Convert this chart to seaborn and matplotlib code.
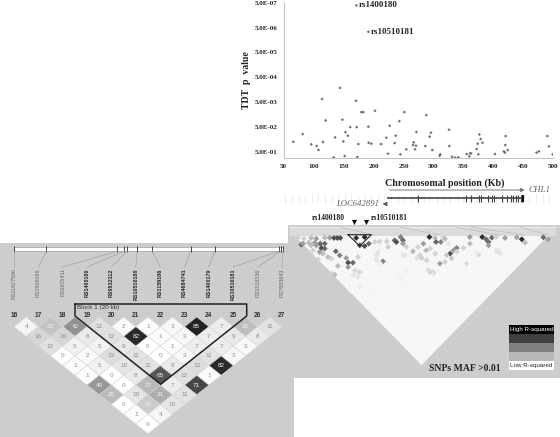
import numpy as np
import pandas as pd
import matplotlib
matplotlib.use("Agg")
import matplotlib.pyplot as plt
from matplotlib.patches import Polygon
import seaborn as sns

W, H = 560, 437
PANEL = "#cdcdcd"
SERIF = "Liberation Serif"
SANS = "Liberation Sans"

# TDT scan: position in Kb, -log10(p)
tdt_kb = [171.3, 191.3, 66, 81.7, 96, 105, 108, 114, 115.6, 120, 133.4, 135.7, 144, 148, 149.6, 151.8, 153, 157, 161,
          170.7, 171.8, 172.9, 174.6, 179.6, 183, 191.3, 191.8, 196.3, 202.4, 212.4, 221.3, 224, 226.9, 235.2, 236.9,
          243, 244.7, 251.3, 254.7, 265.8, 266.9, 269.1, 270.8, 271.4, 286.4, 288, 293.6, 295.8, 298, 310.3, 311.4,
          325.9, 326.4, 330.9, 335.9, 341.4, 355.4, 359.8, 360.9, 362.6, 372, 373.7, 374.8, 376.5, 378.7, 382, 402.6,
          417.6, 419.3, 419.9, 420.4, 423.8, 472, 476, 490, 492.7, 498.9]
tdt_logp = [6.19, 5.13, .70, 1.01, .595, .53, .37, 2.42, .69, 1.56, .07, .877, 2.87, 1.59, .716, .127, 1.09, .944, 1.29,
            2.35, 1.29, .087, .609, 1.894, 1.894, 1.305, .662, .622, 1.948, .609, .863, .22, 1.345, .649, .944,
            1.533, .194, 1.894, .395, .569, .676, .395, .542, 1.091, .529, 1.774, .903, 1.064, .368, .14, .194,
            1.185, .529, .1, .06, .073, .207, .114, .234, .234, .408, .622, .194, .997, .81, .662, .207,
            .314, .261, .569, .93, .368, .261, .314, .93, .515, .194]
p_exponents = [1, 2, 3, 4, 5, 6, 7]
x_ticks = [50, 100, 150, 200, 250, 300, 350, 400, 450, 500]

exon_kb = [274, 354, 362, 376, 379, 391.5, 397, 401, 415, 422, 429, 432, 438, 441.6, 445.5, 448]

# Haploview block, one list per row of the triangle
snp_names = ["RS11927596", "RS1568086", "RS6805411", "RS1400180", "RS9832112", "RS10510180",
             "RS1159106", "RS4684741", "RS1400179", "RS10510181", "RS1516336", "RS7653643"]
snp_bold = [False, False, False, True, True, True, True, True, True, True, False, False]
snp_numbers = list(range(16, 28))
snp_pos = [0, 1.33, 4.24, 4.53, 4.65, 5.05, 5.68, 7.25, 8.24, 10.89, 10.96, 11.04]
ld_rows = [
    [4, 23, 42, 12, 2, 1, 3, 85, 7, 25, 11],
    [16, 16, 8, 12, 82, 1, 3, 7, 9, 8],
    [12, 5, 5, 9, 0, 1, 7, 7, 3],
    [0, 2, 13, 11, 0, 3, 11, 3],
    [1, 5, 10, 11, 8, 13, 82],
    [1, 0, 8, 65, 12, 1],
    [40, 0, 27, 7, 71],
    [26, 10, 31, 11],
    [0, 20, 10],
    [1, 4],
    [0],
]

# Large LD triangle, non-white cells only
big_pos = [2.0, 4.0, 6.4, 8.1, 10.9, 12.6, 14, 15.1, 16.1, 3.1, 3.7, 5.6, 7.6, 9.4, 10.9, 6.4, 9.8, 10.9, 8.1, 7, 9.2,
           10.3, 14.6, 15.9, 12, 13.1, 8.7, 18.1, 18.7, 20.3, 18.7, 15.3, 14.2, 13.1, 21.4, 24.2, 22.6, 24.2, 25.6, 22,
           27.6, 29.2, 31.6, 34.2, 34.8, 36.2, 37, 37, 32, 30.3, 28.1, 28.7, 20.9, 22.6, 22, 22.6, 38.1, 40.3, 42, 37.6,
           37.6, 26.4, 42.6, 45.8, 47.7, 48, 49.6, 50.4, 51, 43.8, 46, 44.7, 47.7, 52.7, 53.8, 54.9, 57.1, 52.1, 59.3,
           59.3, 63.4, 64.7, 65.5, 66.6, 65.5, 68, 71, 74.9, 76.6, 77.7, 83.8, 85.4, 62.1, 68.8, 58.2, 49.3, 51, 47.1,
           46, 44.9, 43.2, 69.3, 38.2, 32.7, 68.2, 26, 19.3,
           51.6, 53.2, 54.9, 47.1, 45.4, 68.2, 69.3, 61.6, 38.2, 36, 28.2, 29.3, 27.1, 32.7, 47.1, 54.9, 19.3, 20.4,
           22.1, 37.1, 41.6, 57.1, 64.9]
big_sep = [3.1, 3.8, 3.3, 3.8, 3.1, 3.1, 3.3, 3.3, 3.3, 7.8, 7.1, 6.4, 6.4, 7.1, 7.1, 8.2, 10, 10.4, 8.2, 11.6, 12.7,
           13.8, 12.2, 14.9, 16, 17.1, 17.6, 16.7, 19.8, 19.8, 22.7, 22, 27.8, 27.1, 3.3, 2.7, 8.2, 8.7, 7.1, 16,
           6, 5.6, 5.6, 4.9, 6, 2.7, 4.9, 7.1, 9.3, 18.9, 14.9, 12.7, 24.9, 26, 29.3, 36, 9.3, 12.2, 9.3, 14.9,
           33.8, 27.1, 14.9, 2.7, 3.3, 6, 6, 3.1, 3.8, 7.1, 10.4, 11.6, 13.8, 13.8, 11.6, 10, 10, 7.1, 2.7,
           7.1, 2.7, 4.2, 6, 3.1, 8.2, 2.7, 3.3, 2.9, 4.2, 6.4, 2.9, 4.2, 14.4, 12.2, 20.4, 20.4, 19.3, 26.4,
           26, 18.2, 16.7, 20.4, 54.7, 54.7, 11.3, 39, 34.7,
           14.7, 16.9, 12.4, 26.9, 24.7, 12.4, 13.5, 13.5, 24.7, 30.2, 18, 20.2, 41.3, 48, 45.8, 30.2, 38, 28,
           25.8, 14.7, 16.9, 23.6, 21.3]
big_r2 = [.3, .3, .4, .5, .4, .5, .8, .8, .8, .7, .5, .4, .5, .7, .7, .4, .8, .7, .5, .3, .5,
          .4, .7, .6, .4, .3, .3, .5, .8, .7, .5, .4, .4, .3, .9, .9, .8, .8, .7, .3,
          .3, .3, .3, .7, .8, .6, .7, .5, .3, .6, .2, .2, .25, .25, .2, .15, .3, .4, .3, .2,
          .1, .1, .3, .9, .4, .7, .6, .3, .4, .5, .3, .4, .3, .8, .5, .6, .3, .2, .5,
          .4, .9, .7, .7, .7, .5, .3, .5, .5, .9, .4, .7, .5, .3, .2, .25, .5, .3, .4,
          .3, .3, .3, .1, .1, .08, .2, .1, .1,
          .35, .35, .3, .2, .25, .2, .2, .15, .15, .12, .2, .15, .08, .07, .05, .07, .1, .2,
          .25, .2, .2, .1, .08]
legend_levels = [1.0, 0.75, 0.5, 0.28, 0.0]


def px_axes(left, top, right, bottom):
    a = fig.add_axes([left / W, 1 - bottom / H, (right - left) / W, (bottom - top) / H])
    a.patch.set_alpha(0)
    return a


def hide(a):
    a.set_xticks([])
    a.set_yticks([])
    a.set_xlabel("")
    a.set_ylabel("")
    for s in a.spines.values():
        s.set_visible(False)


def overlay():
    a = px_axes(0, 0, W, H)
    a.set_xlim(0, W)
    a.set_ylim(H, 0)
    hide(a)
    return a


sns.set_theme(style="white")
fig = plt.figure(figsize=(W / 100, H / 100), dpi=100, facecolor="white")

# backgrounds and free text, in pixels
bg = overlay()
bg.fill_between([0, 294], 243, 436.5, color=PANEL, lw=0)
bg.fill_between([288, 560], 225, 378, color=PANEL, lw=0)
bg.fill_between([290, 556], 227, 236, color="#dbdbdb", lw=0)

# TDT scatter
top = px_axes(283.7, 2.7, 553.3, 158)
sns.scatterplot(x=tdt_kb, y=tdt_logp, ax=top, marker="D", s=2.6, color="#707070", edgecolor="none", legend=False)
top.set_xlim(50, 500)
top.set_ylim(0.047, 6.301)
top.set_xticks(x_ticks)
top.set_xticklabels(x_ticks, family=SERIF, fontweight="bold", fontsize=5, color="#222222")
top.set_yticks([e - np.log10(5) for e in p_exponents])
top.set_yticklabels(["5.0E-%02d" % e for e in p_exponents], family=SERIF, fontweight="bold", fontsize=5, color="#222222")
top.tick_params(axis="both", length=1.5, width=0.5, color="#bbbbbb", pad=3)
for s in ["top", "right"]:
    top.spines[s].set_visible(False)
for s in ["left", "bottom"]:
    top.spines[s].set_color("#c4c4c4")
    top.spines[s].set_linewidth(0.8)
top.set_ylabel("TDT  p  value", family=SERIF, fontweight="bold", fontsize=7, color="#222222", labelpad=3)
top.annotate("rs1400180", (tdt_kb[0], tdt_logp[0]), xytext=(2, 0), textcoords="offset points", va="center",
             family=SERIF, fontweight="bold", fontsize=6.5, color="#222222")
top.annotate("rs10510181", (tdt_kb[1], tdt_logp[1]), xytext=(2, 0), textcoords="offset points", va="center",
             family=SERIF, fontweight="bold", fontsize=6.5, color="#222222")

# gene track shares the Kb scale
gene = px_axes(283.7, 185, 553.3, 210)
gene.set_xlim(50, 500)
gene.set_ylim(25, 0)
hide(gene)
gene.vlines(np.arange(53, 500, 11), 9, 18, color="#eeeeee", lw=0.8)
gene.hlines(13, 222, 450, color="#333333", lw=1.1)
gene.vlines(exon_kb, 9.5, 16.5, color="#444444", lw=0.8)
gene.vlines([449], 9.5, 16.5, color="#111111", lw=1.6)
gene.annotate("", xy=(457, 5), xytext=(222, 5), arrowprops=dict(arrowstyle="-|>", color="#777777", lw=0.7, mutation_scale=6))
gene.annotate("", xy=(215, 19), xytext=(224, 19), arrowprops=dict(arrowstyle="-|>", color="#555555", lw=0.7, mutation_scale=6))
gene.text(458, 5, "CHL1", family=SERIF, style="italic", fontsize=6.5, color="#666666", va="center")
gene.text(209, 19, "LOC642891", family=SERIF, style="italic", fontsize=6.2, color="#666666", va="center", ha="right")
bg.text(444.5, 183, "Chromosomal position (Kb)", family=SERIF, fontweight="bold", fontsize=7.2, color="#222222",
        ha="center", va="center")

# big LD triangle
big = px_axes(289, 233, 554, 365)
tri = Polygon([(1, 2), (85.33, 2), (43.17, 88)], closed=True, facecolor="#f5f5f5", edgecolor="none")
big.add_patch(tri)
for q in np.arange(-1, 88, 1.5):
    line1, = big.plot([q, q + 44], [0, 88], color="white", lw=0.25, zorder=1.5)
    line2, = big.plot([q, q - 44], [0, 88], color="white", lw=0.25, zorder=1.5)
    line1.set_clip_path(tri)
    line2.set_clip_path(tri)
cells = pd.DataFrame({"pos": big_pos, "sep": big_sep, "r2": big_r2})
sns.scatterplot(data=cells, x="pos", y="sep", hue="r2", palette="Greys", hue_norm=(0, 1.05), marker="D", s=9,
                edgecolor="none", legend=False, ax=big, zorder=3)
big.set_xlim(-1, 87.33)
big.set_ylim(88, 0)
hide(big)

over = overlay()
over.plot([290, 555], [226.5, 226.5], color="#e8e8e8", lw=1)
for x0, x1 in [(340, 375), (400, 440), (455, 500), (470, 525), (520, 548)]:
    over.plot([x0, x1], [227, 235], color="#b5b5b5", lw=0.4)
over.plot([348, 371.3, 359.7, 348], [234.7, 234.7, 246, 234.7], color="#222222", lw=0.8)
over.scatter([354, 366], [221.5, 221.5], marker="v", s=14, color="#111111", lw=0)
over.text(312, 218, "rs1400180", family=SERIF, fontweight="bold", fontsize=5.5, color="#222222", va="center")
over.text(371, 218, "rs10510181", family=SERIF, fontweight="bold", fontsize=5.5, color="#222222", va="center")
over.text(465, 368.5, "SNPs MAF >0.01", family=SERIF, fontweight="bold", fontsize=7, color="#222222", ha="center", va="center")

# R-squared key
key = px_axes(508.7, 325, 554, 370)
sns.heatmap(np.array(legend_levels).reshape(-1, 1), cmap="gray_r", vmin=0, vmax=1, cbar=False, ax=key,
            xticklabels=False, yticklabels=False)
key.text(0.5, 0.5, "High R-squared", color="white", family=SANS, fontsize=4.5, ha="center", va="center")
key.text(0.5, 4.5, "Low R-squared", color="#222222", family=SANS, fontsize=4.5, ha="center", va="center")

# SNP map bar above the small block
bar = px_axes(14, 249, 282, 267)
bar.set_xlim(0, 11)
bar.set_ylim(1, 0)
hide(bar)
bar.hlines(0, 0, 11.04, color="white", lw=2.4, clip_on=False)
bar.hlines([-0.09, 0.09], 0, 11.04, color="#999999", lw=0.4, clip_on=False)
bar.vlines(snp_pos, -0.15, 0.15, color="#444444", lw=0.7, clip_on=False)
for i, name in enumerate(snp_names):
    bar.plot([snp_pos[i], i], [0.12, 1], color="#a2a2a2", lw=0.5, clip_on=False)
    bar.text(i, 1.07, name, rotation=90, family=SANS, fontsize=3.9, ha="center", va="top",
             fontweight="bold" if snp_bold[i] else "normal", color="#222222" if snp_bold[i] else "#666666", clip_on=False)

# small LD block
ld = px_axes(14, 317, 282, 424)
ld.set_xlim(0, 11)
ld.set_ylim(11, 0)
hide(ld)
for r, row in enumerate(ld_rows, start=1):
    for k, v in enumerate(row):
        cx = k + r / 2
        g = 1 - 0.0102 * v
        ld.fill([cx - .5, cx, cx + .5, cx], [r, r - 1, r, r + 1], color=str(g), ec="#d8d8d8", lw=0.4, clip_on=False)
        ld.text(cx, r, str(v), fontsize=4.6, family=SANS, ha="center", va="center", clip_on=False,
                color="#f0f0f0" if v >= 20 else "#8f8f8f")
for i, n in enumerate(snp_numbers):
    ld.text(i, -0.2, str(n), fontsize=4.8, family=SANS, fontweight="bold", ha="center", va="center",
            color="#333333", clip_on=False)

outline = overlay()
outline.text(77, 308, "Block 1 (20 kb)", family=SANS, fontsize=4.6, color="#333333", va="center")
outline.plot([75, 246.7, 246.7, 160.7, 75, 75], [304, 304, 316, 384.3, 316, 304], color="#222222", lw=1.1)

fig.savefig("out.png", dpi=100)
